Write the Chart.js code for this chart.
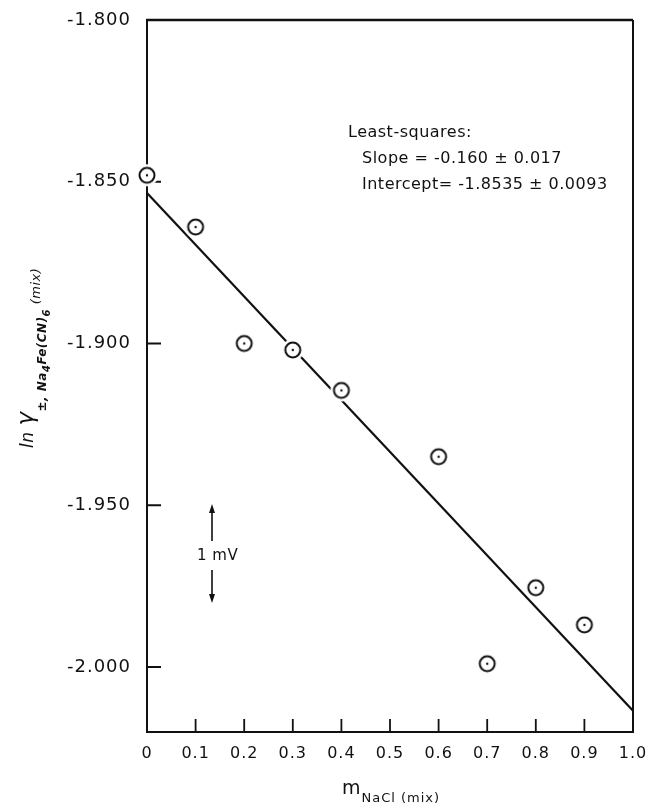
<!DOCTYPE html>
<html>
<head>
<meta charset="utf-8">
<script src="https://cdn.jsdelivr.net/npm/chart.js@4"></script>
<style>
    html, body { margin: 0; padding: 0; background: #fff; }
    #wrap { width: 651px; height: 805px; }
</style>
</head>
<body>
<div id="wrap"><canvas id="chart" width="651" height="805"></canvas></div>
<script>
// Measured points (m NaCl vs ln gamma)
const xValues = [0, 0.1, 0.2, 0.3, 0.4, 0.6, 0.7, 0.8, 0.9];
const yValues = [-1.848, -1.864, -1.900, -1.902, -1.9145, -1.935, -1.999, -1.9755, -1.987];

// Least-squares line end points
const fitX = [0, 1.0];
const fitY = [-1.8535, -2.0135];

// Axis ticks
const xTicks = [0, 0.1, 0.2, 0.3, 0.4, 0.5, 0.6, 0.7, 0.8, 0.9, 1.0];
const yTicks = [-2.000, -1.950, -1.900, -1.850, -1.800];

const INK = '#111';
const FONT = '"DejaVu Sans", sans-serif';

// circle-with-dot marker, white halo breaks the line like the original
function makeMarker() {
    const c = document.createElement('canvas');
    c.width = 24; c.height = 24;
    const g = c.getContext('2d');
    g.fillStyle = '#fff';
    g.beginPath(); g.arc(12, 12, 11, 0, Math.PI * 2); g.fill();
    g.strokeStyle = INK;
    g.lineWidth = 2;
    g.beginPath(); g.arc(12, 12, 7.5, 0, Math.PI * 2); g.stroke();
    g.fillStyle = INK;
    g.beginPath(); g.arc(12, 12, 1.2, 0, Math.PI * 2); g.fill();
    return c;
}

// draw a run of text pieces, each with own font and baseline shift
function drawRuns(ctx, runs, x, y) {
    let cx = x;
    runs.forEach(r => {
        ctx.font = r.font;
        ctx.fillText(r.text, cx, y + (r.dy || 0));
        cx += ctx.measureText(r.text).width;
    });
}

const decorPlugin = {
    id: 'decor',
    beforeDraw(chart) {
        // the original lettering is widely spaced
        chart.ctx.letterSpacing = '1px';
    },
    beforeDatasetsDraw(chart) {
        // inward tick marks
        const ctx = chart.ctx;
        const a = chart.chartArea;
        const xs = chart.scales.x, ys = chart.scales.y;
        ctx.save();
        ctx.strokeStyle = INK;
        ctx.lineWidth = 1.8;
        ctx.beginPath();
        xTicks.slice(1, -1).forEach(v => {
            const px = xs.getPixelForValue(v);
            ctx.moveTo(px, a.bottom);
            ctx.lineTo(px, a.bottom - 13);
        });
        yTicks.slice(0, -1).forEach(v => {
            const py = ys.getPixelForValue(v);
            ctx.moveTo(a.left, py);
            ctx.lineTo(a.left + 14, py);
        });
        ctx.stroke();
        ctx.restore();
    },
    afterDatasetsDraw(chart) {
        const ctx = chart.ctx;
        const a = chart.chartArea;
        ctx.save();
        ctx.strokeStyle = INK;
        // top and right frame
        ctx.lineWidth = 2.6;
        ctx.beginPath();
        ctx.moveTo(a.left - 1, a.top);
        ctx.lineTo(a.right, a.top);
        ctx.stroke();
        ctx.lineWidth = 2;
        ctx.beginPath();
        ctx.moveTo(a.right, a.top);
        ctx.lineTo(a.right, a.bottom + 1);
        ctx.stroke();

        ctx.fillStyle = INK;
        ctx.textBaseline = 'middle';
        ctx.textAlign = 'left';

        // least-squares note
        ctx.letterSpacing = '0.5px';
        ctx.font = '16px ' + FONT;
        ctx.fillText('Least-squares:', 348, 133);
        ctx.fillText('Slope = -0.160 \u00b1 0.017', 362, 159);
        ctx.fillText('Intercept= -1.8535 \u00b1 0.0093', 362, 185);

        // 1 mV scale bar
        const bx = 212;
        ctx.lineWidth = 1.6;
        ctx.beginPath();
        ctx.moveTo(bx, 509); ctx.lineTo(bx, 541);
        ctx.moveTo(bx, 570); ctx.lineTo(bx, 598);
        ctx.stroke();
        ctx.beginPath();
        ctx.moveTo(bx, 504); ctx.lineTo(bx - 3, 513); ctx.lineTo(bx + 3, 513); ctx.closePath();
        ctx.moveTo(bx, 603); ctx.lineTo(bx - 3, 594); ctx.lineTo(bx + 3, 594); ctx.closePath();
        ctx.fill();
        ctx.font = '15px ' + FONT;
        ctx.fillText('1 mV', 197, 556);

        // x-axis title
        ctx.letterSpacing = '1px';
        ctx.textBaseline = 'alphabetic';
        drawRuns(ctx, [
            { text: 'm', font: '19px ' + FONT },
            { text: 'NaCl (mix)', font: '13px ' + FONT, dy: 8 }
        ], 342, 794);

        // y-axis title, rotated
        ctx.letterSpacing = '0.5px';
        ctx.translate(33, 448);
        ctx.rotate(-Math.PI / 2);
        const it = 'italic ';
        drawRuns(ctx, [
            { text: 'ln ', font: it + '17px ' + FONT },
            { text: '\u03b3', font: it + '23px ' + FONT },
            { text: '\u00b1, Na', font: it + 'bold 12px ' + FONT, dy: 13 },
            { text: '4', font: it + 'bold 10px ' + FONT, dy: 17 },
            { text: 'Fe(CN)', font: it + 'bold 12px ' + FONT, dy: 13 },
            { text: '6', font: it + 'bold 10px ' + FONT, dy: 17 },
            { text: ' (mix)', font: it + '13px ' + FONT, dy: 7 }
        ], 0, 0);
        ctx.restore();
    },
    afterDraw(chart) {
        chart.ctx.letterSpacing = '0px';
    }
};

const ctx = document.getElementById('chart').getContext('2d');

new Chart(ctx, {
    type: 'scatter',
    data: {
        datasets: [
            {
                label: 'fit',
                data: fitX.map((x, i) => ({ x: x, y: fitY[i] })),
                showLine: true,
                borderColor: INK,
                borderWidth: 2.2,
                pointRadius: 0,
                clip: false,
                order: 2
            },
            {
                label: 'data',
                data: xValues.map((x, i) => ({ x: x, y: yValues[i] })),
                pointStyle: makeMarker(),
                pointRadius: 11,
                clip: false,
                order: 1
            }
        ]
    },
    options: {
        responsive: false,
        animation: false,
        events: [],
        layout: { padding: { top: 20, right: 18, left: 0, bottom: 0 } },
        plugins: {
            legend: { display: false },
            tooltip: { enabled: false }
        },
        scales: {
            x: {
                type: 'linear',
                min: 0,
                max: 1,
                afterBuildTicks: s => { s.ticks = xTicks.map(v => ({ value: v })); },
                afterFit: s => { s.height = 73; },
                grid: { display: false },
                border: { display: true, color: INK, width: 2 },
                ticks: {
                    color: INK,
                    font: { family: FONT, size: 16 },
                    padding: 4,
                    maxRotation: 0,
                    autoSkip: false,
                    callback: v => (v === 0 ? '0' : v.toFixed(1))
                }
            },
            y: {
                type: 'linear',
                min: -2.0201,
                max: -1.8,
                afterBuildTicks: s => { s.ticks = yTicks.map(v => ({ value: v })); },
                afterFit: s => { s.width = 147; },
                grid: { display: false },
                border: { display: true, color: INK, width: 2 },
                ticks: {
                    color: INK,
                    font: { family: FONT, size: 18 },
                    padding: 8,
                    autoSkip: false,
                    callback: v => v.toFixed(3)
                }
            }
        }
    },
    plugins: [decorPlugin]
});
</script>
</body>
</html>
